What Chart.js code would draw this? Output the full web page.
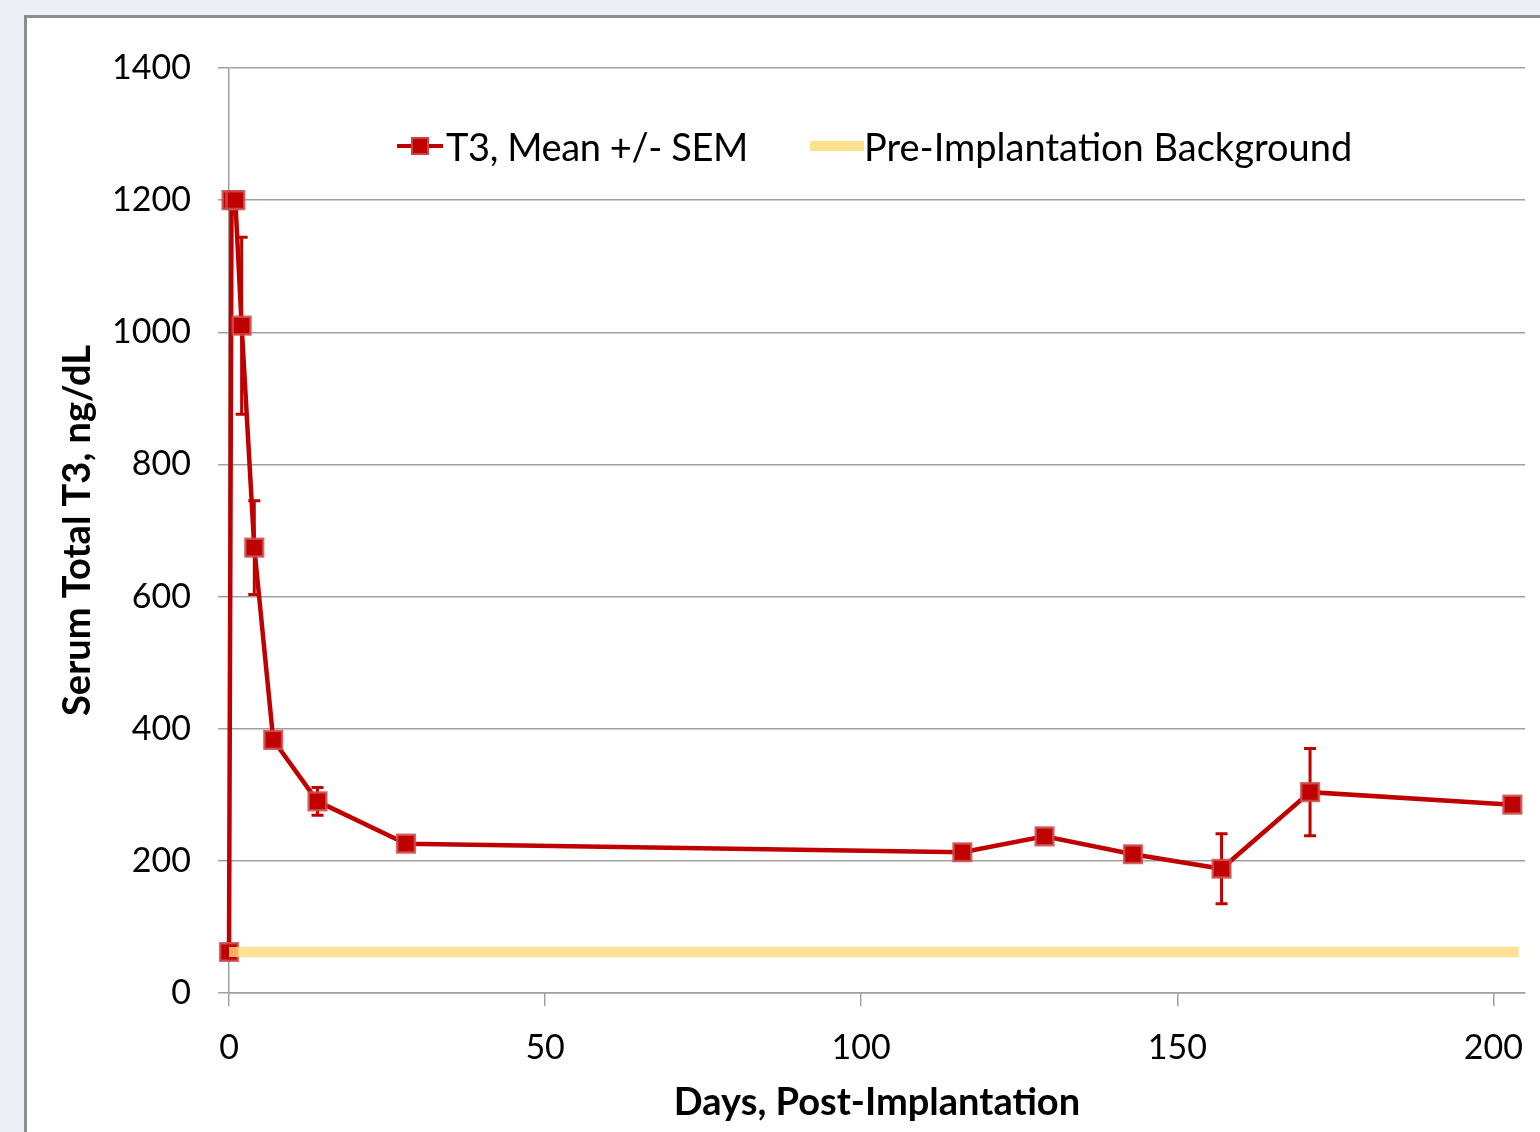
<!DOCTYPE html>
<html>
<head>
<meta charset="utf-8">
<script src="https://cdn.jsdelivr.net/npm/chart.js@4/dist/chart.umd.min.js"></script>
<style>
  html, body { margin: 0; padding: 0; }
  body { width: 1540px; height: 1132px; background: #eceff6; overflow: hidden; position: relative; font-family: Lato, "Open Sans", sans-serif; }
  #frame { position: absolute; left: 24px; top: 15px; width: 1516px; height: 1117px; background: #fff;
           border-left: 3px solid #8c8c8c; border-top: 3px solid #8c8c8c; }
  #chart { position: absolute; left: 0; top: 0; }
  .leg { position: absolute; font-size: 38px; color: #000; line-height: 44px; white-space: nowrap; }
  .sym { position: absolute; }
</style>
</head>
<body>
<div id="frame">
  <canvas id="chart" width="1513" height="1114"></canvas>
</div>
<div class="sym" style="left:397px; top:144px; width:46px; height:4px; background:#c00000;"></div>
<div class="sym" style="left:411px; top:137px; width:14px; height:14px; background:#c00000; border:2px solid rgba(205,80,80,0.85);"></div>
<div class="leg" style="left:446px; top:124px; letter-spacing:-0.4px;">T3, Mean +/- SEM</div>
<div class="sym" style="left:810px; top:141px; width:54px; height:10px; background:#ffe08c;"></div>
<div class="leg" style="left:864px; top:124px;">Pre-Implantation Background</div>

<script>
// Datos
const days = [0, 0.4, 1, 2, 4, 7, 14, 28, 116, 129, 143, 157, 171, 203];
const t3Mean = [62, 1200, 1200, 1010, 674, 383, 290, 226, 213, 237, 210, 188, 304, 285];
const t3Sem = [0, 0, 0, 134, 71, 0, 21, 0, 0, 0, 0, 53, 66, 0];
const backgroundDays = [0, 204];
const backgroundLevel = 62;
const yTicks = [0, 200, 400, 600, 800, 1000, 1200, 1400];
const xTicks = [0, 50, 100, 150, 200];

const t3Points = days.map((d, i) => ({ x: d, y: t3Mean[i], sem: t3Sem[i] }));
const bgPoints = backgroundDays.map(d => ({ x: d, y: backgroundLevel }));

// Barras de error (SEM) dibujadas con las escalas del gráfico
const errorBars = {
    id: 'errorBars',
    beforeDatasetsDraw(chart) {
        const ctx = chart.ctx;
        const xs = chart.scales.x, ys = chart.scales.y;
        ctx.save();
        ctx.strokeStyle = '#c00000';
        ctx.lineWidth = 3;
        t3Points.forEach(p => {
            if (!p.sem) return;
            const px = xs.getPixelForValue(p.x);
            const top = ys.getPixelForValue(p.y + p.sem);
            const bot = ys.getPixelForValue(p.y - p.sem);
            ctx.beginPath();
            ctx.moveTo(px, top); ctx.lineTo(px, bot);
            ctx.moveTo(px - 6, top); ctx.lineTo(px + 6, top);
            ctx.moveTo(px - 6, bot); ctx.lineTo(px + 6, bot);
            ctx.stroke();
        });
        ctx.restore();
    }
};

const ctx = document.getElementById('chart').getContext('2d');
new Chart(ctx, {
    type: 'line',
    data: {
        datasets: [{
            label: 'T3, Mean +/- SEM',
            data: t3Points,
            borderColor: '#c00000',
            borderWidth: 4.5,
            pointStyle: 'rect',
            pointRadius: 12.5,
            pointBackgroundColor: '#c00000',
            pointBorderColor: 'rgba(205,80,80,0.85)',
            pointBorderWidth: 2.5,
            tension: 0,
            clip: false,
            order: 2
        }, {
            label: 'Pre-Implantation Background',
            data: bgPoints,
            borderColor: 'rgba(255,218,120,0.8)',
            borderWidth: 10,
            pointRadius: 0,
            borderCapStyle: 'butt',
            clip: false,
            order: 1
        }]
    },
    options: {
        responsive: false,
        animation: false,
        layout: { padding: { top: 50, right: 15, left: 0, bottom: 0 } },
        plugins: {
            legend: { display: false },
            tooltip: { enabled: false }
        },
        scales: {
            x: {
                type: 'linear',
                min: 0,
                max: 205,
                afterBuildTicks: s => { s.ticks = xTicks.map(v => ({ value: v })); },
                afterFit: s => { s.height = 139; s.paddingLeft = 0; s.paddingRight = 0; },
                grid: { drawOnChartArea: false, drawTicks: true, tickLength: 13, color: '#a0a0a0', lineWidth: 1.5 },
                border: { display: true, color: '#a0a0a0', width: 1.5 },
                ticks: { color: '#000', font: { family: 'Lato', size: 34 }, padding: 22, maxRotation: 0,
                         callback: v => String(v) },
                title: {
                    display: true,
                    text: 'Days, Post-Implantation',
                    color: '#000',
                    font: { family: 'Lato', size: 38, weight: 'bold' },
                    padding: { top: 0, bottom: 6 }
                }
            },
            y: {
                min: 0,
                max: 1400,
                afterBuildTicks: s => { s.ticks = yTicks.map(v => ({ value: v })); },
                afterFit: s => { s.width = 202; },
                grid: { drawTicks: true, tickLength: 11, color: '#a0a0a0', lineWidth: 1.5 },
                border: { display: true, color: '#a0a0a0', width: 1.5 },
                ticks: { color: '#000', font: { family: 'Lato', size: 34 }, padding: 27,
                         callback: v => String(v) },
                title: {
                    display: true,
                    text: 'Serum Total T3, ng/dL',
                    color: '#000',
                    font: { family: 'Lato', size: 38, weight: 'bold' },
                    padding: { top: 28, bottom: 0 }
                }
            }
        }
    },
    plugins: [errorBars]
});
</script>
</body>
</html>
